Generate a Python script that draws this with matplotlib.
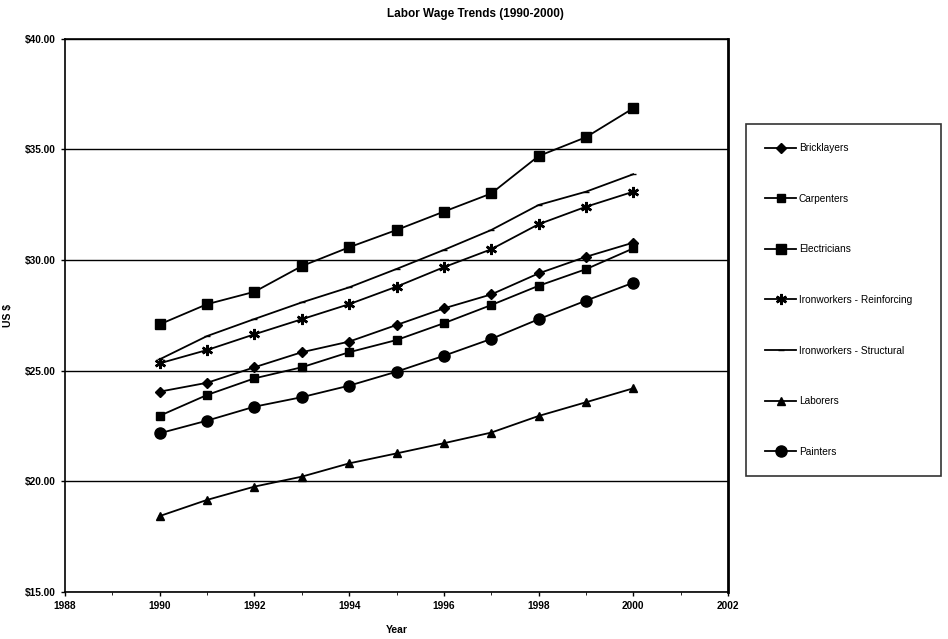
import numpy as np
import matplotlib
matplotlib.use('Agg')
import matplotlib.pyplot as plt
from matplotlib.ticker import MultipleLocator

plt.rcParams['font.family'] = ['Liberation Sans', 'DejaVu Sans']

years = [1990, 1991, 1992, 1993, 1994, 1995, 1996, 1997, 1998, 1999, 2000]

bricklayers = [24.05, 24.45, 25.15, 25.83, 26.31, 27.06, 27.81, 28.44, 29.39, 30.14, 30.78]
carpenters = [22.96, 23.90, 24.65, 25.15, 25.83, 26.38, 27.14, 27.96, 28.83, 29.58, 30.52]
electricians = [27.09, 28.00, 28.56, 29.72, 30.57, 31.35, 32.18, 33.00, 34.69, 35.54, 36.85]
reinforcing = [25.33, 25.93, 26.64, 27.32, 28.00, 28.79, 29.67, 30.48, 31.61, 32.40, 33.08]
structural = [25.51, 26.56, 27.33, 28.08, 28.76, 29.59, 30.45, 31.35, 32.48, 33.08, 33.87]
laborers = [18.43, 19.16, 19.76, 20.21, 20.81, 21.26, 21.72, 22.20, 22.95, 23.57, 24.20]
painters = [22.17, 22.74, 23.37, 23.80, 24.32, 24.95, 25.67, 26.43, 27.32, 28.16, 28.97]

series = [
    ('Bricklayers', bricklayers, 'D', 5),
    ('Carpenters', carpenters, 's', 6),
    ('Electricians', electricians, 's', 6.5),
    ('Ironworkers - Reinforcing', reinforcing, (6, 2, 0), 8),
    ('Ironworkers - Structural', structural, '_', 5),
    ('Laborers', laborers, '^', 6),
    ('Painters', painters, 'o', 8),
]

fig = plt.figure(figsize=(9.48, 6.39), dpi=100)
ax = fig.add_axes([65/948, 1-592/639, (728-65)/948, (592-38.5)/639])

for name, vals, mk, ms in series:
    ax.plot(years, vals, c='black', lw=1.3, marker=mk, ms=ms, mew=1.8 if mk == (6, 2, 0) else 1,
            mfc='black', mec='black', label=name)

ax.set_xlim(1988, 2002)
ax.set_ylim(15, 40)
ax.xaxis.set_major_locator(MultipleLocator(2))
ax.xaxis.set_minor_locator(MultipleLocator(1))
ax.yaxis.set_major_locator(MultipleLocator(5))
ax.yaxis.set_major_formatter(plt.FuncFormatter(lambda v, p: '$%.2f' % v))
ax.tick_params(labelsize=7.3, length=3, width=1, direction='out')
ax.tick_params(which='minor', length=2)
for lab in ax.get_xticklabels() + ax.get_yticklabels():
    lab.set_fontweight('bold')
ax.grid(axis='y', color='black', lw=1)
ax.set_axisbelow(True)
for s in ['left', 'right', 'bottom', 'top']:
    ax.spines[s].set_linewidth(1.2)
ax.spines['right'].set_linewidth(2)

ax.set_xlabel('Year', fontsize=7.5, fontweight='bold', labelpad=10)
ax.set_ylabel('US $', fontsize=7.5, fontweight='bold')
ax.yaxis.set_label_coords((13-65)/663, 0.5)
fig.text(475/948, 1-14/639, 'Labor Wage Trends (1990-2000)', fontsize=8.5, fontweight='bold',
         ha='center', va='center')

leg = fig.legend(loc='upper left', bbox_to_anchor=(741/948, 1-119/639, (946-741)/948, 0),
                 mode='expand', fontsize=7.3, labelspacing=4.0, handlelength=3,
                 fancybox=False, edgecolor='black', borderpad=1.9, handletextpad=0.3)
leg.get_frame().set_linewidth(1.2)

fig.savefig('out.png', dpi=100)
